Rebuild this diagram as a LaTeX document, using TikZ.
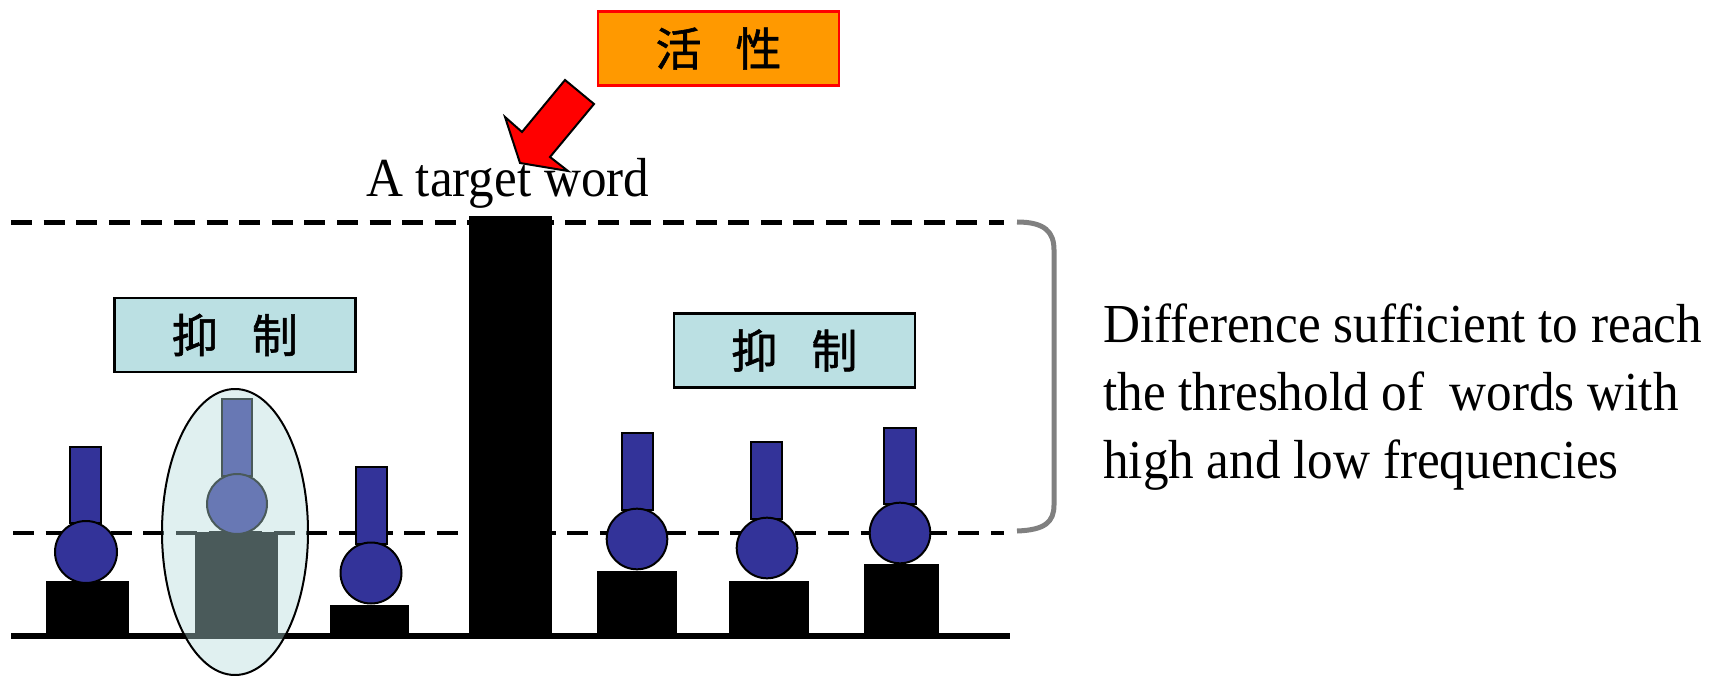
\documentclass[tikz,border=0pt]{standalone}
\usepackage{fontspec}
\newfontfamily\latinfont[FakeStretch=0.93]{Liberation Serif}
\newfontfamily\cjkfont[FakeBold=1.2]{Noto Sans CJK JP}
\definecolor{stemblue}{RGB}{51,51,153}
\definecolor{calmblue}{RGB}{187,224,227}
\definecolor{activeorange}{RGB}{255,153,0}
\definecolor{veil}{RGB}{180,219,219}
\definecolor{bracketgray}{RGB}{128,128,128}
\tikzset{
  labelbox/.style={draw=black, line width=2.5pt, fill=calmblue, inner sep=0pt,
    minimum width=241pt, minimum height=74pt,
    font=\cjkfont\fontsize{46}{46}\selectfont},
  activebox/.style={labelbox, draw=red, fill=activeorange},
  latintext/.style={anchor=base west, inner sep=0pt,
    font=\latinfont\fontsize{55}{68}\selectfont},
  threshold/.style={line width=4.5pt, dash pattern=on 21pt off 11.6pt},
  bar/.style={fill=black},
  stem/.style={draw=black, line width=2pt, fill=stemblue},
  head/.style={draw=black, line width=2pt, fill=stemblue},
}
\begin{document}
\begin{tikzpicture}[x=1pt,y=-1pt]
\useasboundingbox (0,0) rectangle (1723,676);

% thresholds and ground line
\draw[threshold] (11,222.5) -- (1004,222.5);
\draw[threshold] (13,533) -- (1004,533);
\fill (11,633) rectangle (1010,639);

% bracket marking the gap between the two thresholds
\draw[bracketgray, line width=5pt]
  (1017,222) .. controls (1045,222) and (1054,232) .. (1054,250)
  -- (1054,505) .. controls (1054,522) and (1045,530) .. (1017,531);

% word units: base bar, stem and head
\fill[bar] (46,581) rectangle (129,633);
\draw[stem] (70,447) rectangle (101,523);
\draw[head] (86,552) circle[radius=31pt];

\fill[bar] (195,532) rectangle (278,633);
\draw[stem] (222,399) rectangle (252,476);
\draw[head] (237,504) circle[radius=30pt];

\fill[bar] (330,605) rectangle (409,633);
\draw[stem] (356,467) rectangle (387,544);
\draw[head] (371,573) circle[radius=30.5pt];

% target word
\fill[bar] (469,216) rectangle (552,633);

\fill[bar] (597,571) rectangle (677,633);
\draw[stem] (622,433) rectangle (653,510);
\draw[head] (637,539) circle[radius=30.3pt];

\fill[bar] (729,581) rectangle (809,633);
\draw[stem] (751,442) rectangle (782,519);
\draw[head] (767,548) circle[radius=30.3pt];

\fill[bar] (864,564) rectangle (939,633);
\draw[stem] (884,428) rectangle (916,504);
\draw[head] (900,533) circle[radius=30.3pt];

% translucent veil over the inhibited unit
\draw[line width=2pt, fill=veil, fill opacity=0.41, draw opacity=1]
  (235,532) ellipse[x radius=73pt, y radius=143pt];

% labels
\node[labelbox] (inhibleft) at (235,335) {抑\hspace{34pt}制};
\node[labelbox] (inhibright) at (794.5,350.5) {抑\hspace{34pt}制};
\node[activebox] (active) at (718.5,48.5) {活\hspace{34pt}性};

\node[latintext] (target) at (366,197) {A target word};

\node[latintext] (diffone) at (1103,342) {Difference sufficient to reach};
\node[latintext] (difftwo) at (1103,410) {the threshold of\ \ words with};
\node[latintext] (diffthree) at (1103,478) {high and low frequencies};

% activation arrow
\draw[line width=2pt, fill=red, line join=miter]
  (565,80) -- (594,104) -- (550,157) -- (568,171) -- (520,163)
  -- (505,117) -- (522,132) -- cycle;
\end{tikzpicture}
\end{document}
